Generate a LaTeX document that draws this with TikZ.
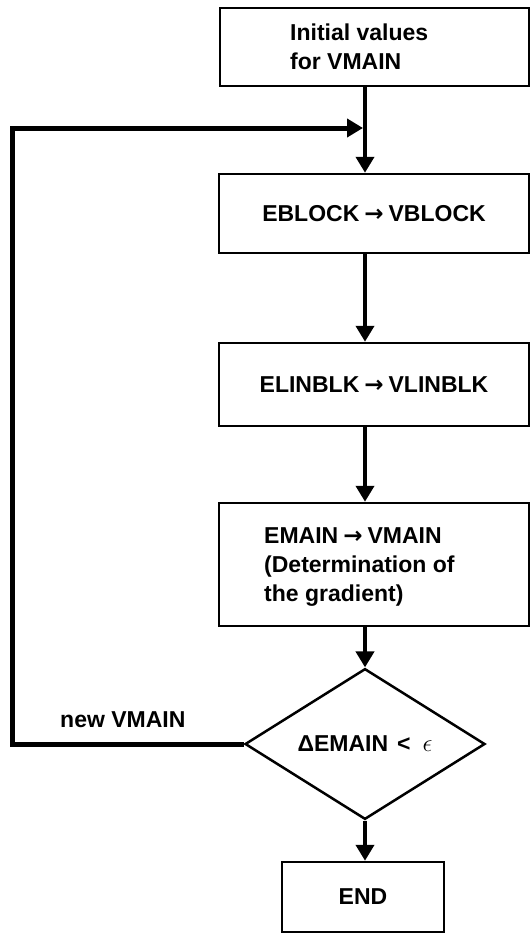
\documentclass[tikz,border=0pt]{standalone}
\usepackage{fontspec}
\setmainfont{Liberation Sans}
\newfontfamily\arrowfont{DejaVu Sans}
\usetikzlibrary{arrows.meta,shapes.geometric}

\newcommand{\maps}{\hspace{5pt}{\arrowfont\bfseries →}\hspace{5pt}}

\tikzset{
  box/.style={draw, rectangle, line width=2.5pt, inner sep=0pt},
  lbl/.style={font=\fontsize{23}{29}\selectfont\bfseries, inner sep=0pt},
  conn/.style={line width=4pt, -{Triangle[width=18pt,length=16pt]}},
  back/.style={line width=5pt, -{Triangle[width=18pt,length=16pt]}},
  test/.style={draw, shape=diamond, line width=2.5pt, inner sep=0pt,
               minimum width=240pt, minimum height=133pt},
}

\begin{document}
\begin{tikzpicture}[x=1pt,y=-1pt]
\useasboundingbox (0,0) rectangle (531,934);

% process boxes
\node[box, minimum width=309pt, minimum height=78pt]  (b1) at (374.5,47) {};
\node[lbl, anchor=west, align=left] (t1) at (290,47) {Initial values\\for VMAIN};

\node[box, lbl, minimum width=310pt, minimum height=79pt] (b2) at (374,213.5)
  {EBLOCK\maps VBLOCK};

\node[box, lbl, minimum width=310pt, minimum height=83pt] (b3) at (374,384.5)
  {ELINBLK\maps VLINBLK};

\node[box, minimum width=310pt, minimum height=123pt] (b4) at (374,564.5) {};
\node[lbl, anchor=west, align=left] (t4) at (264,567)
  {EMAIN\maps VMAIN\\(Determination of\\the gradient)};

% convergence test
\node[test, lbl] (dia) at (365,744)
  {ΔEMAIN\hspace{9pt}<\hspace{12pt}{\fontsize{29}{29}\selectfont$\epsilon$}};

\node[box, lbl, minimum width=162pt, minimum height=70pt] (end) at (363,897) {END};

% main flow
\coordinate (trunk) at (365,0);
\draw[conn] (b1.south -| trunk) -- (b2.north -| trunk);
\draw[conn] (b2.south -| trunk) -- (b3.north -| trunk);
\draw[conn] (b3.south -| trunk) -- (b4.north -| trunk);
\draw[conn] (b4.south -| dia.north) -- (dia.north);
\draw[conn] (dia.south) -- (dia.south |- end.north);

% feedback loop
\coordinate (corner) at (12,128);
\coordinate (join) at (365,128);
\draw[back, shorten >=2pt] (dia.west) -| (corner) -- (join);
\node[lbl, anchor=base west] (nv) at (60,727) {new VMAIN};
\end{tikzpicture}
\end{document}
